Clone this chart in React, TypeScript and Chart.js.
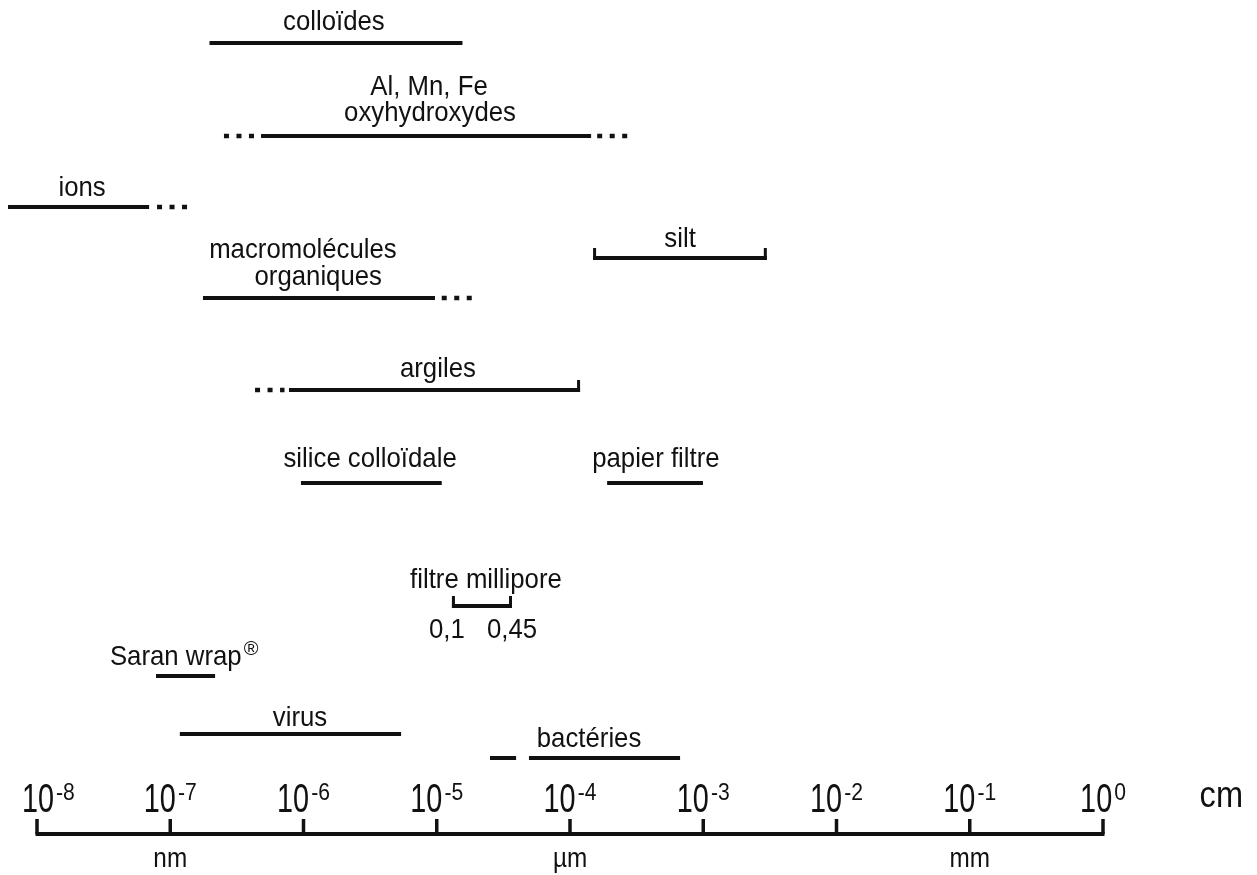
import React, { useEffect, useRef } from "react";
import { Chart, registerables } from "chart.js";

Chart.register(...registerables);

// ---- Size ranges (cm), drawn on a logarithmic x axis ----
const rangeNames = [
  "colloïdes", "oxyhydroxydes", "ions", "silt", "macromolécules organiques",
  "argiles", "silice colloïdale", "papier filtre", "filtre millipore",
  "Saran wrap", "virus", "bactéries (petites)", "bactéries",
];
const rangeFrom = [1.97e-7, 4.8e-7, 6.06e-9, 1.49e-4, 1.76e-7, 7.78e-7, 9.57e-7, 1.9e-4, 1.3e-5, 7.82e-8, 1.18e-7, 2.51e-5, 4.92e-5];
const rangeTo = [1.56e-5, 1.44e-4, 6.94e-8, 3.0e-3, 9.7e-6, 1.19e-4, 1.09e-5, 9.95e-4, 3.67e-5, 2.17e-7, 5.4e-6, 3.94e-5, 6.7e-4];
// vertical row position of each range (diagram rows, top = 0)
const rangeRow = [43, 136, 207, 258, 298, 390, 483, 483, 606, 676, 734, 758, 758];
const rangeTickLeft = [false, false, false, true, false, false, false, false, true, false, false, false, false];
const rangeTickRight = [false, false, false, true, false, true, false, false, true, false, false, false, false];

// ---- Dotted (uncertain) extensions ----
const dotFrom = [2.53e-7, 1.6e-4, 7.96e-8, 1.09e-5, 4.33e-7];
const dotTo = [4.3e-7, 2.72e-4, 1.34e-7, 1.84e-5, 7.2e-7];
const dotRow = [136, 136, 207, 298, 390];

// ---- Text labels ----
const labelTexts = [
  "colloïdes", "Al, Mn, Fe", "oxyhydroxydes", "ions", "silt", "macromolécules",
  "organiques", "argiles", "silice colloïdale", "papier filtre", "filtre millipore",
  "0,1", "0,45", "Saran wrap", "virus", "bactéries",
];
const labelAt = [1.69e-6, 8.75e-6, 8.9e-6, 2.18e-8, 6.7e-4, 9.9e-7, 1.29e-6, 1.02e-5, 3.16e-6, 4.41e-4, 2.34e-5, 1.19e-5, 3.67e-5, 1.1e-7, 9.42e-7, 1.39e-4];
const labelRow = [30, 95, 121, 196, 247, 258, 285, 377, 467, 467, 588, 638, 638, 665, 726, 747];

// ---- Axis ----
const tickValues = [1e-8, 1e-7, 1e-6, 1e-5, 1e-4, 1e-3, 1e-2, 1e-1, 1e0];
const tickExponents = ["-8", "-7", "-6", "-5", "-4", "-3", "-2", "-1", "0"];
const unitLabels = ["nm", "µm", "mm"];
const unitAt = [1e-7, 1e-4, 1e-1];
const axisUnit = "cm";
const axisRow = 834;

const INK = "#111111";
const FONT = '"Liberation Sans", Arial, sans-serif';

function drawText(
  ctx: CanvasRenderingContext2D,
  text: string,
  x: number,
  y: number,
  size: number,
  sx: number,
  align: "center" | "left" | "right" = "center"
) {
  ctx.save();
  ctx.font = `${size}px ${FONT}`;
  ctx.textBaseline = "alphabetic";
  ctx.textAlign = align;
  ctx.translate(x, y);
  ctx.scale(sx, 1);
  ctx.fillText(text, 0, 0);
  ctx.restore();
}

function textWidth(ctx: CanvasRenderingContext2D, text: string, size: number, sx: number) {
  ctx.save();
  ctx.font = `${size}px ${FONT}`;
  const w = ctx.measureText(text).width * sx;
  ctx.restore();
  return w;
}

const overlayPlugin = {
  id: "overlay",
  afterDatasetsDraw(chart: any) {
    const ctx: CanvasRenderingContext2D = chart.ctx;
    const xs = chart.scales.x;
    const ys = chart.scales.y;
    ctx.save();
    ctx.fillStyle = INK;

    // bracket end ticks
    for (let i = 0; i < rangeNames.length; i++) {
      const py = ys.getPixelForValue(rangeRow[i]);
      if (rangeTickLeft[i]) {
        const px = xs.getPixelForValue(rangeFrom[i]);
        ctx.fillRect(px, py - 10, 3, 12);
      }
      if (rangeTickRight[i]) {
        const px = xs.getPixelForValue(rangeTo[i]);
        ctx.fillRect(px - 3, py - 10, 3, 12);
      }
    }

    // labels
    const LS = 28;
    const LX = 0.92;
    for (let i = 0; i < labelTexts.length; i++) {
      const px = xs.getPixelForValue(labelAt[i]);
      const py = ys.getPixelForValue(labelRow[i]);
      drawText(ctx, labelTexts[i], px, py, LS, LX, "center");
      if (labelTexts[i] === "Saran wrap") {
        const w = textWidth(ctx, labelTexts[i], LS, LX);
        drawText(ctx, "®", px + w / 2 + 2, py - 10, 20, 1, "left");
      }
    }

    // axis line
    const ay = ys.getPixelForValue(axisRow);
    const ax0 = xs.getPixelForValue(tickValues[0]);
    const ax1 = xs.getPixelForValue(tickValues[tickValues.length - 1]);
    ctx.fillRect(ax0 - 1.5, ay - 2, ax1 - ax0 + 3, 4);
    for (let i = 0; i < tickValues.length; i++) {
      const px = xs.getPixelForValue(tickValues[i]);
      ctx.fillRect(px - 1.75, ay - 15, 3.5, 15);
      // tick label 10^n
      const baseSize = 40, baseSx = 0.72, supSize = 24, supSx = 0.88;
      const w1 = textWidth(ctx, "10", baseSize, baseSx);
      const w2 = textWidth(ctx, tickExponents[i], supSize, supSx);
      let left = px - (w1 + w2 + 2) / 2;
      if (left < 22) left = 22;
      drawText(ctx, "10", left, ay - 22, baseSize, baseSx, "left");
      drawText(ctx, tickExponents[i], left + w1 + 2, ay - 34, supSize, supSx, "left");
    }
    for (let i = 0; i < unitLabels.length; i++) {
      const px = xs.getPixelForValue(unitAt[i]);
      drawText(ctx, unitLabels[i], px, ay + 33, 27, 0.9, "center");
    }
    drawText(ctx, axisUnit, chart.chartArea.right - 14, ay - 27, 37, 0.88, "right");

    ctx.restore();
  },
};

export default function App() {
  const canvasRef = useRef<HTMLCanvasElement | null>(null);

  useEffect(() => {
    if (!canvasRef.current) return;
    const datasets: any[] = [];
    for (let i = 0; i < rangeNames.length; i++) {
      datasets.push({
        label: rangeNames[i],
        data: [
          { x: rangeFrom[i], y: rangeRow[i] },
          { x: rangeTo[i], y: rangeRow[i] },
        ],
        borderColor: INK,
        borderWidth: 4,
        borderCapStyle: "butt",
        pointRadius: 0,
        fill: false,
      });
    }
    for (let i = 0; i < dotFrom.length; i++) {
      datasets.push({
        label: "dots" + i,
        data: [
          { x: dotFrom[i], y: dotRow[i] },
          { x: dotTo[i], y: dotRow[i] },
        ],
        borderColor: INK,
        borderWidth: 4.5,
        borderCapStyle: "butt",
        borderDash: [5, 7.5],
        pointRadius: 0,
        fill: false,
      });
    }

    // x axis: 10^-8 cm at px 37, 133.25 px per decade, canvas 1257 wide
    const minLog = -8 - 37 / 133.25;
    const maxLog = -8 + (1257 - 37) / 133.25;

    const chart = new Chart(canvasRef.current, {
      type: "line",
      data: { datasets },
      options: {
        animation: false,
        responsive: true,
        maintainAspectRatio: false,
        layout: { padding: 0 },
        plugins: {
          legend: { display: false },
          tooltip: { enabled: false },
        },
        scales: {
          x: {
            type: "logarithmic",
            display: false,
            bounds: "data",
            min: Math.pow(10, minLog),
            max: Math.pow(10, maxLog),
          },
          y: {
            type: "linear",
            display: false,
            reverse: true,
            min: 0,
            max: 875,
          },
        },
      },
      plugins: [overlayPlugin],
    } as any);

    return () => chart.destroy();
  }, []);

  return (
    <div
      style={{
        position: "absolute",
        left: 0,
        top: 0,
        width: 1257,
        height: 875,
        background: "#ffffff",
      }}
    >
      <canvas ref={canvasRef} />
    </div>
  );
}
